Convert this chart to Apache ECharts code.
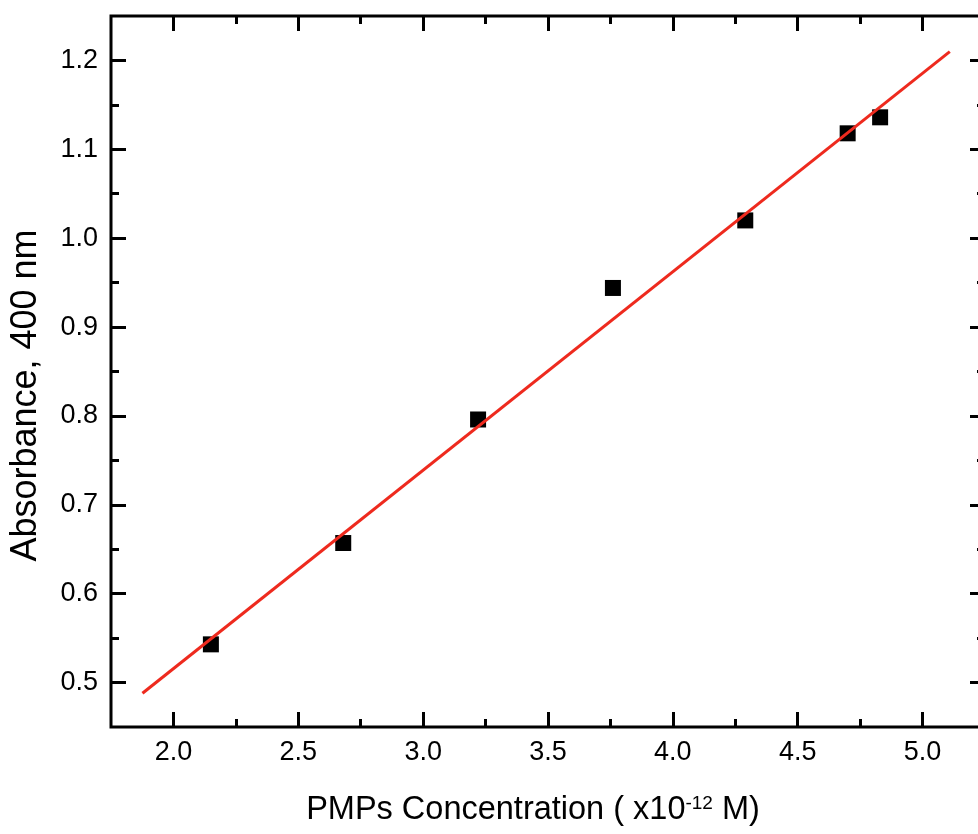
<!DOCTYPE html>
<html>
<head>
<meta charset="utf-8">
<script src="https://cdn.jsdelivr.net/npm/echarts@6/dist/echarts.min.js"></script>
<style>
html,body{margin:0;padding:0;background:#fff;}
#chart{width:978px;height:834px;}
</style>
</head>
<body>
<div id="chart"></div>
<script>
// Data
var concentration = [2.15, 2.68, 3.22, 3.76, 4.29, 4.70, 4.83];
var absorbance    = [0.543, 0.657, 0.796, 0.944, 1.020, 1.118, 1.136];
var fitX = [1.876, 5.109];
var fitY = [0.488, 1.210];
var xTicks = [2.0, 2.5, 3.0, 3.5, 4.0, 4.5, 5.0];
var yTicks = [0.5, 0.6, 0.7, 0.8, 0.9, 1.0, 1.1, 1.2];
var xRange = [1.75, 5.25];
var yRange = [0.45, 1.25];

var FONT = 'Liberation Sans, Arial, sans-serif';

// frame grid geometry
var G = {left: 111, top: 16, width: 874, height: 711};
var pxX = G.width / (xRange[1] - xRange[0]);
var pxY = G.height / (yRange[1] - yRange[0]);
var inner = {
  left: G.left + (xTicks[0] - xRange[0]) * pxX,
  width: (xTicks[xTicks.length - 1] - xTicks[0]) * pxX,
  top: G.top + (yRange[1] - yTicks[yTicks.length - 1]) * pxY,
  height: (yTicks[yTicks.length - 1] - yTicks[0]) * pxY
};
var offX = (xTicks[0] - xRange[0]) * pxX;
var offY = (yRange[1] - yTicks[yTicks.length - 1]) * pxY;

var tickStyle = {show: true, inside: true, length: 15, lineStyle: {color: '#000', width: 3}};
var minorStyle = {show: true, splitNumber: 2, length: 8, lineStyle: {color: '#000', width: 3}};
var labelStyle = {color: '#000', fontSize: 27, fontFamily: FONT, formatter: function (v) { return v.toFixed(1); }};

function tickXAxis(pos, showLabel, extra) {
  var a = {
    type: 'value', gridIndex: 1, position: pos, offset: offY,
    min: xTicks[0], max: xTicks[xTicks.length - 1], interval: 0.5,
    axisLine: {show: false}, axisTick: tickStyle, minorTick: minorStyle,
    splitLine: {show: false},
    axisLabel: showLabel ? Object.assign({margin: 12}, labelStyle) : {show: false}
  };
  return Object.assign(a, extra || {});
}
function tickYAxis(pos, showLabel, extra) {
  var a = {
    type: 'value', gridIndex: 1, position: pos, offset: offX,
    min: yTicks[0], max: yTicks[yTicks.length - 1], interval: 0.1,
    axisLine: {show: false}, axisTick: tickStyle, minorTick: minorStyle,
    splitLine: {show: false},
    axisLabel: showLabel ? Object.assign({margin: 13, padding: [0, 0, 6, 0]}, labelStyle) : {show: false}
  };
  return Object.assign(a, extra || {});
}

var option = {
  animation: false,
  backgroundColor: '#fff',
  grid: [
    {left: G.left, top: G.top, width: G.width, height: G.height, show: true,
     borderColor: '#000', borderWidth: 3, backgroundColor: 'transparent', outerBoundsMode: 'none', containLabel: false},
    {left: inner.left, top: inner.top, width: inner.width, height: inner.height,
     show: false, outerBoundsMode: 'none', containLabel: false}
  ],
  xAxis: [
    {type: 'value', gridIndex: 0, min: xRange[0], max: xRange[1], position: 'bottom',
     axisLine: {show: false}, axisTick: {show: false}, axisLabel: {show: false}, splitLine: {show: false}},
    tickXAxis('bottom', true, {
      name: 'PMPs Concentration ( x10{sup|-12} M)',
      nameLocation: 'middle', nameGap: 67,
      nameTextStyle: {color: '#000', fontSize: 32.5, fontFamily: FONT, padding: [0, 30, 0, 0],
        rich: {sup: {fontSize: 19, fontFamily: FONT, color: '#000', verticalAlign: 'top', padding: [0, 0, 14, 0]}}}
    }),
    tickXAxis('top', false)
  ],
  yAxis: [
    {type: 'value', gridIndex: 0, min: yRange[0], max: yRange[1], position: 'left',
     axisLine: {show: false}, axisTick: {show: false}, axisLabel: {show: false}, splitLine: {show: false}},
    tickYAxis('left', true, {
      name: 'Absorbance, 400 nm', nameLocation: 'middle', nameRotate: 90, nameGap: 67,
      nameTextStyle: {color: '#000', fontSize: 36, fontFamily: FONT, padding: [0, 48, 0, 0]}
    }),
    tickYAxis('right', false)
  ],
  series: [
    {type: 'scatter', xAxisIndex: 0, yAxisIndex: 0, symbol: 'rect', symbolSize: 16,
     itemStyle: {color: '#000', opacity: 1}, z: 2,
     data: concentration.map(function (x, i) { return [x, absorbance[i]]; })},
    {type: 'line', xAxisIndex: 0, yAxisIndex: 0, showSymbol: false, symbol: 'none', z: 3,
     lineStyle: {color: '#ee2a1e', width: 3},
     data: fitX.map(function (x, i) { return [x, fitY[i]]; })}
  ]
};

var chart = echarts.init(document.getElementById('chart'), null, {renderer: 'canvas'});
chart.setOption(option);
</script>
</body>
</html>
